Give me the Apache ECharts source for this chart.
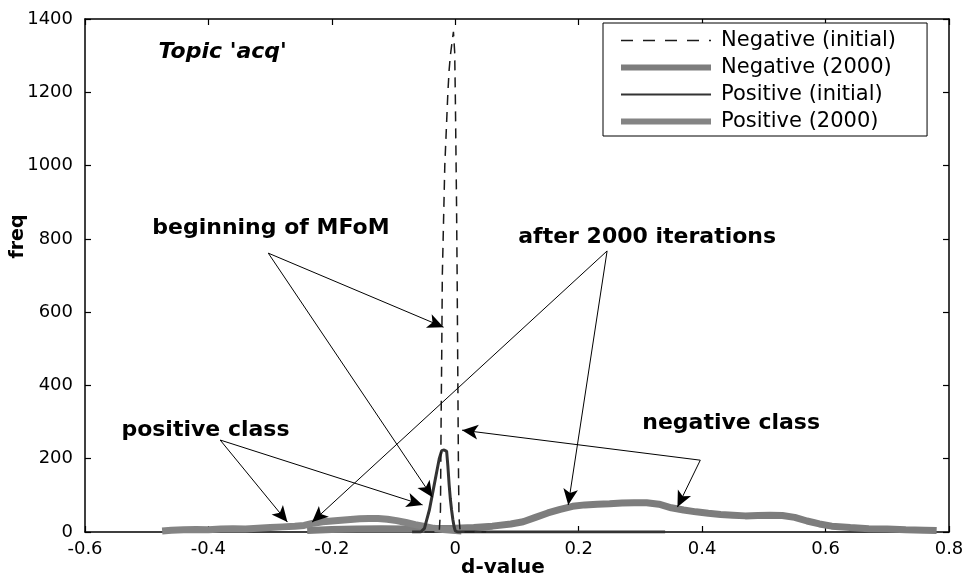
<!DOCTYPE html>
<html>
<head>
<meta charset="utf-8">
<script src="https://cdn.jsdelivr.net/npm/echarts@6/dist/echarts.min.js"></script>
<style>
html, body { margin: 0; padding: 0; background: #fff; }
#main { width: 969px; height: 576px; }
</style>
</head>
<body>
<div id="main"></div>
<script>
// values
var negInitX = [-0.05, -0.026, -0.024, -0.023, -0.022, -0.021, -0.019, -0.017, -0.014, -0.012, -0.010, -0.008, -0.005, -0.003, -0.001, 0.000, 0.001, 0.002, 0.003, 0.004, 0.005, 0.006, 0.008, 0.05];
var negInitY = [0, 0, 60, 300, 480, 700, 850, 1000, 1120, 1200, 1260, 1300, 1340, 1365, 1310, 1200, 1050, 900, 700, 450, 200, 40, 0, 0];

var posInitX = [-0.07, -0.056, -0.05, -0.046, -0.042, -0.038, -0.034, -0.03, -0.026, -0.022, -0.018, -0.014, -0.012, -0.01, -0.008, -0.006, -0.004, -0.002, 0, 0.004, 0.34];
var posInitY = [0, 0, 10, 35, 60, 95, 130, 165, 200, 222, 224, 220, 180, 130, 90, 60, 35, 15, 3, 0, 0];

var pos2000X = [-0.475, -0.46, -0.44, -0.42, -0.40, -0.38, -0.36, -0.34, -0.32, -0.30, -0.28, -0.26, -0.245, -0.23, -0.215, -0.20, -0.185, -0.17, -0.155, -0.14, -0.125, -0.11, -0.095, -0.08, -0.065, -0.05, -0.035, -0.02, -0.005, 0.01];
var pos2000Y = [3, 5, 6, 7, 6, 8, 9, 8, 10, 12, 14, 16, 18, 24, 28, 30, 32, 34, 36, 37, 37, 35, 31, 26, 20, 15, 10, 7, 5, 3];

var neg2000X = [-0.24, -0.2, -0.16, -0.12, -0.08, -0.04, 0, 0.03, 0.06, 0.09, 0.11, 0.13, 0.15, 0.17, 0.19, 0.21, 0.23, 0.25, 0.27, 0.29, 0.31, 0.33, 0.35, 0.37, 0.39, 0.41, 0.43, 0.45, 0.47, 0.49, 0.51, 0.53, 0.55, 0.57, 0.59, 0.61, 0.64, 0.67, 0.70, 0.73, 0.76, 0.78];
var neg2000Y = [4, 7, 8, 9, 8, 9, 10, 12, 16, 22, 28, 40, 52, 62, 70, 74, 76, 77, 79, 80, 80, 76, 66, 60, 55, 51, 48, 46, 44, 45, 46, 45, 40, 30, 22, 16, 12, 9, 8, 6, 5, 4];

var seriesNames = ['Negative (initial)', 'Negative (2000)', 'Positive (initial)', 'Positive (2000)'];

// arrows: [fromX, fromY, toX, toY] in data units
var arrows = [
  [-0.303, 761, -0.019, 559],
  [-0.303, 761, -0.037, 95],
  [0.246, 767, -0.232, 27],
  [0.246, 767, 0.183, 74],
  [-0.381, 251, -0.272, 27],
  [-0.381, 251, -0.053, 74],
  [0.397, 196, 0.011, 278],
  [0.397, 196, 0.360, 68]
];
// notes: [text, x, y, italic]
var notes = [
  ["Topic 'acq'", -0.481, 1310, true],
  ['beginning of MFoM', -0.491, 830, false],
  ['after 2000 iterations', 0.102, 805, false],
  ['positive class', -0.541, 278, false],
  ['negative class', 0.303, 297, false]
];

function zip(xs, ys) {
  return xs.map(function (x, i) { return [x, ys[i]]; });
}

var font = 'DejaVu Sans';
var chartDom = document.getElementById('main');
var myChart = echarts.init(chartDom);
var option;

var axisLine = { show: true, onZero: false, lineStyle: { color: '#000', width: 1.5 } };
var tick = { show: true, inside: true, length: 6, lineStyle: { color: '#000', width: 1.2 } };

option = {
  animation: false,
  backgroundColor: '#fff',
  grid: { left: 85, right: 20, top: 19, bottom: 44, containLabel: false, outerBoundsMode: 'none' },
  legend: {
    orient: 'vertical',
    left: 603,
    top: 23,
    padding: [7, 31, 4, 15],
    itemGap: 6,
    itemWidth: 90,
    itemHeight: 14,
    backgroundColor: '#fff',
    borderColor: '#000',
    borderWidth: 1,
    itemStyle: { opacity: 0 },
    textStyle: { fontFamily: font, fontSize: 21, color: '#000', padding: [0, 0, 0, 5] },
    data: [
      { name: seriesNames[0], lineStyle: { width: 1.5, type: [12, 10] } },
      { name: seriesNames[1], lineStyle: { width: 6 } },
      { name: seriesNames[2], lineStyle: { width: 2 } },
      { name: seriesNames[3], lineStyle: { width: 6 } }
    ]
  },
  xAxis: [
    {
      type: 'value', min: -0.6, max: 0.8, interval: 0.2, position: 'bottom',
      axisLine: axisLine, axisTick: tick, splitLine: { show: false },
      axisLabel: {
        color: '#000', fontFamily: font, fontSize: 18, margin: 8,
        formatter: function (v) { return String(+v.toFixed(1)); }
      },
      name: 'd-value', nameLocation: 'middle', nameGap: 26, nameMoveOverlap: false,
      nameTextStyle: { fontFamily: font, fontSize: 20, fontWeight: 'bold', color: '#000', padding: [0, 28, 0, 0] }
    },
    {
      type: 'value', min: -0.6, max: 0.8, interval: 0.2, position: 'top',
      axisLine: axisLine, axisTick: tick, splitLine: { show: false }, axisLabel: { show: false }
    }
  ],
  yAxis: [
    {
      type: 'value', min: 0, max: 1400, interval: 200, position: 'left',
      axisLine: axisLine, axisTick: tick, splitLine: { show: false },
      axisLabel: {
        color: '#000', fontFamily: font, fontSize: 18, margin: 12,
        formatter: function (v) { return String(v); }
      },
      name: 'freq', nameLocation: 'middle', nameGap: 57, nameMoveOverlap: false,
      nameTextStyle: { fontFamily: font, fontSize: 19, fontWeight: 'bold', color: '#000', padding: [0, 0, 0, 78] }
    },
    {
      type: 'value', min: 0, max: 1400, interval: 200, position: 'right',
      axisLine: axisLine, axisTick: tick, splitLine: { show: false }, axisLabel: { show: false }
    }
  ],
  series: [
    {
      name: seriesNames[1], type: 'line', symbol: 'none',
      lineStyle: { color: '#7d7d7d', width: 7 }, itemStyle: { color: '#7d7d7d' },
      data: zip(neg2000X, neg2000Y)
    },
    {
      name: seriesNames[3], type: 'line', symbol: 'none',
      lineStyle: { color: '#848484', width: 7 }, itemStyle: { color: '#848484' },
      data: zip(pos2000X, pos2000Y)
    },
    {
      name: seriesNames[2], type: 'line', symbol: 'none',
      lineStyle: { color: '#333', width: 3 }, itemStyle: { color: '#111' },
      data: zip(posInitX, posInitY)
    },
    {
      name: seriesNames[0], type: 'line', symbol: 'none',
      lineStyle: { color: '#1a1a1a', width: 1.5, type: [10, 7] }, itemStyle: { color: '#1a1a1a' },
      data: zip(negInitX, negInitY),
      markLine: {
        silent: true,
        symbol: ['none', 'arrow'],
        symbolSize: [11, 16],
        lineStyle: { color: '#000', width: 1, type: 'solid' },
        itemStyle: { color: '#000' },
        label: { show: false },
        emphasis: { disabled: true },
        data: arrows.map(function (a) {
          return [{ coord: [a[0], a[1]] }, { coord: [a[2], a[3]] }];
        })
      }
    }
  ]
};

option && myChart.setOption(option);

// text notes placed through the chart's own scales
myChart.setOption({
  graphic: notes.map(function (n) {
    var p = myChart.convertToPixel({ xAxisIndex: 0, yAxisIndex: 0 }, [n[1], n[2]]);
    return {
      type: 'text', x: p[0], y: p[1], silent: true,
      style: {
        text: n[0], fill: '#000', fontFamily: font, fontSize: 22, fontWeight: 'bold',
        fontStyle: n[3] ? 'italic' : 'normal', align: 'left', verticalAlign: 'middle'
      }
    };
  })
});
</script>
</body>
</html>
